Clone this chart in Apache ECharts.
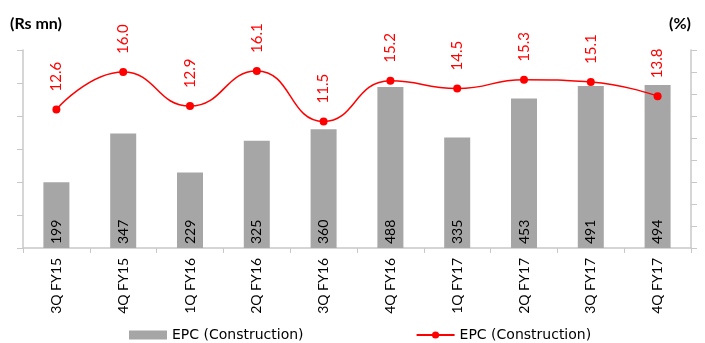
<!DOCTYPE html>
<html>
<head>
<meta charset="utf-8">
<script src="https://cdn.jsdelivr.net/npm/echarts@6/dist/echarts.min.js"></script>
<style>
  html, body { margin: 0; padding: 0; background: #fff; }
  #chart { width: 705px; height: 343px; }
</style>
</head>
<body>
<div id="chart"></div>
<script>
// Quarterly EPC (Construction) revenue (Rs mn) and margin (%)
const quarters = ['3Q FY15', '4Q FY15', '1Q FY16', '2Q FY16', '3Q FY16', '4Q FY16', '1Q FY17', '2Q FY17', '3Q FY17', '4Q FY17'];
const revenue = [199, 347, 229, 325, 360, 488, 335, 453, 491, 494];
const margin = [12.6, 16.0, 12.9, 16.1, 11.5, 15.2, 14.5, 15.3, 15.1, 13.8];

const FONT = 'Lato, "DejaVu Sans", sans-serif';
const WIDE = '"DejaVu Sans", sans-serif';
const axisGrey = '#c8c8c8';

const chart = echarts.init(document.getElementById('chart'), null, { renderer: 'canvas' });
chart.setOption({
  animation: false,
  textStyle: { fontFamily: FONT },
  grid: { left: 23, right: 14, top: 50, bottom: 95 },
  legend: {
    bottom: -4,
    left: 124,
    itemGap: 112,
    textStyle: { fontSize: 14, color: '#000', fontFamily: WIDE },
    data: [
      { name: 'bar', icon: 'rect', itemStyle: { color: '#a6a6a6' } },
      { name: 'line' }
    ],
    formatter: () => 'EPC (Construction)',
    itemWidth: 38,
    itemHeight: 9
  },
  xAxis: {
    type: 'category',
    data: quarters,
    axisLine: { lineStyle: { color: axisGrey, width: 1.5 } },
    axisTick: { show: true, length: 5, lineStyle: { color: axisGrey } },
    axisLabel: {
      rotate: 90,
      interval: 0,
      margin: 10,
      color: '#000',
      fontSize: 14,
      fontFamily: FONT
    }
  },
  yAxis: [
    {
      type: 'value',
      name: '(Rs mn)',
      nameLocation: 'end',
      nameGap: 18,
      nameTextStyle: { fontSize: 16, fontWeight: 'bold', color: '#000', align: 'left', padding: [0, 0, 0, -13], fontFamily: FONT },
      min: 0, max: 600, interval: 100,
      axisLine: { show: true, lineStyle: { color: axisGrey, width: 1.5 } },
      axisTick: { show: true, length: 6, lineStyle: { color: axisGrey } },
      axisLabel: { show: false },
      splitLine: { show: false }
    },
    {
      type: 'value',
      name: '(%)',
      nameLocation: 'end',
      nameGap: 18,
      nameTextStyle: { fontSize: 16, fontWeight: 'bold', color: '#000', align: 'right', fontFamily: FONT },
      min: 0, max: 18, interval: 2,
      position: 'right',
      axisLine: { show: true, lineStyle: { color: axisGrey, width: 1.5 } },
      axisTick: { show: true, length: 6, lineStyle: { color: axisGrey } },
      axisLabel: { show: false },
      splitLine: { show: false }
    }
  ],
  series: [
    {
      name: 'bar',
      type: 'bar',
      data: revenue,
      barWidth: 26,
      itemStyle: { color: '#a6a6a6' },
      label: {
        show: true,
        position: 'insideBottom',
        rotate: 90,
        align: 'left',
        verticalAlign: 'middle',
        distance: 4,
        color: '#000',
        fontSize: 14,
        fontFamily: FONT
      }
    },
    {
      name: 'line',
      type: 'line',
      yAxisIndex: 1,
      data: margin,
      smooth: 0.5,
      symbol: 'circle',
      symbolSize: 8,
      lineStyle: { color: '#ff0000', width: 1.5 },
      itemStyle: { color: '#ff0000' },
      label: {
        show: true,
        position: 'top',
        rotate: 90,
        align: 'left',
        verticalAlign: 'middle',
        distance: 14,
        color: '#ff0000',
        fontSize: 15,
        fontFamily: FONT,
        formatter: p => p.value.toFixed(1)
      }
    }
  ]
});
</script>
</body>
</html>
